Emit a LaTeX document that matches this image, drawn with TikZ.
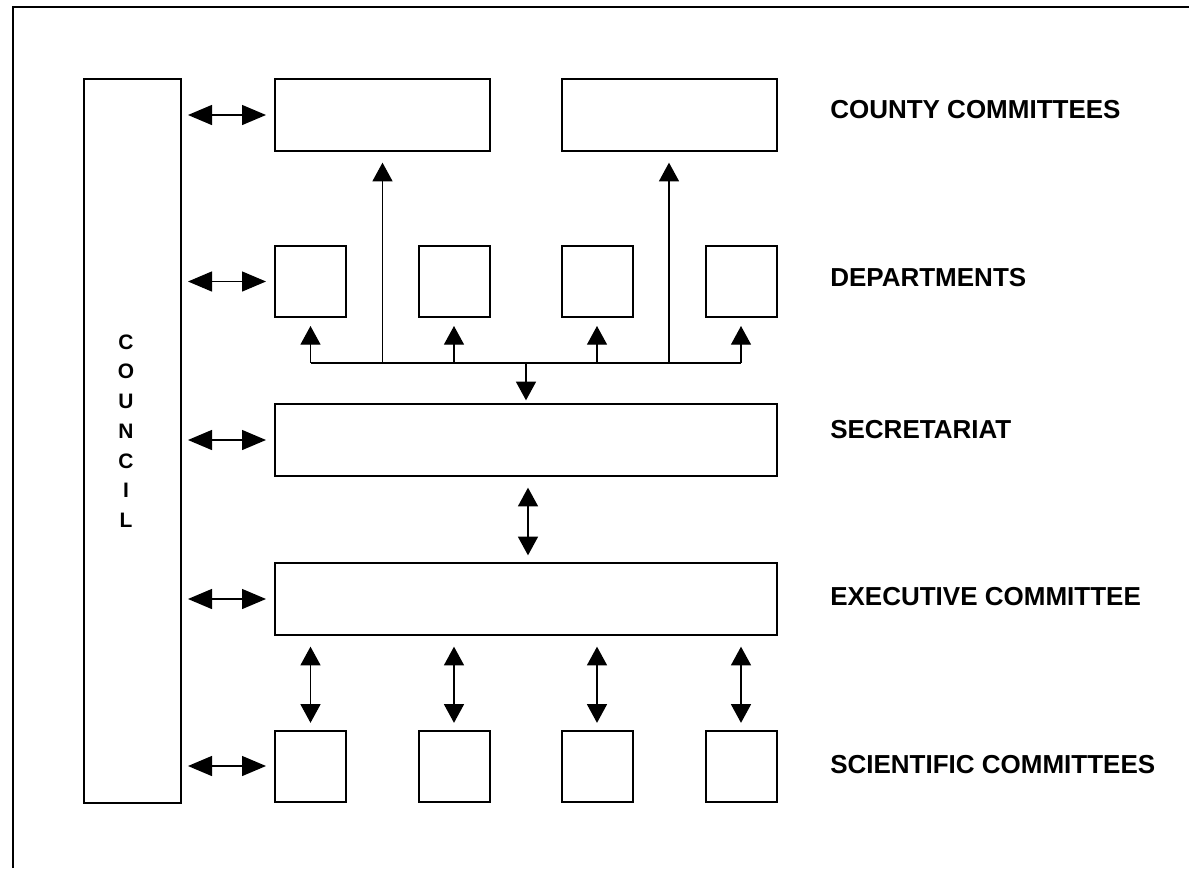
\documentclass[tikz,border=0pt]{standalone}
\usepackage{fontspec}
\setmainfont{Liberation Sans}
\usetikzlibrary{arrows.meta}

\begin{document}
\begin{tikzpicture}[x=0.75pt,y=-0.75pt,
  box/.style={draw,line width=1.5pt,inner sep=0pt},
  wide box/.style={box,minimum width=161.25pt,minimum height=54pt},
  small box/.style={box,minimum width=53.25pt,minimum height=53.25pt},
  long box/.style={box,minimum width=376.5pt,minimum height=54pt},
  link/.style={-{Triangle[length=14pt,width=15pt]},line width=1pt},
  both link/.style={{Triangle[length=14pt,width=15pt]}-{Triangle[length=14pt,width=15pt]},line width=1pt},
  side link/.style={{Triangle[length=18pt,width=15pt]}-{Triangle[length=18pt,width=15pt]},line width=1pt,
    shorten <=4.5pt,shorten >=6pt},
  level/.style={anchor=west,inner sep=0pt,font=\bfseries\fontsize{19.5}{24}\selectfont}]
\useasboundingbox (0,0) rectangle (1189,868);
% The frame
\draw[line width=1.5pt] (13,868) |- (1189,7);
% The council
\node[box,minimum width=72.75pt,minimum height=543pt] (council) at (132.5,441) {};
\foreach \ch [count=\i from 0] in {C,O,U,N,C,I,L}
  \node[inner sep=0pt,font=\bfseries\fontsize{15.7}{18}\selectfont] (letter\i) at (126,342+29.7*\i) {\ch};
% The boxes
\node[wide box] (county1) at (382.5,115) {};
\node[wide box] (county2) at (669,115) {};
\foreach \x [count=\i] in {310.5,454,597,741}
{
  \node[small box] (dept\i) at (\x,281.5) {};
  \node[small box] (sci\i) at (\x,766) {};
}
\node[long box] (secr) at (526,440) {};
\node[long box] (exec) at (526,599) {};
% The labels
\node[level] (lcounty) at (830,110) {COUNTY COMMITTEES};
\node[level] (ldept) at (830,278) {DEPARTMENTS};
\node[level] (lsecr) at (830,430) {SECRETARIAT};
\node[level] (lexec) at (830,597) {EXECUTIVE COMMITTEE};
\node[level] (lsci) at (830,765) {SCIENTIFIC COMMITTEES};
% Links to the council
\foreach \n in {county1,dept1,secr,exec,sci1}
  \draw[side link] (council.east |- \n.west) -- (\n.west);
% The bus under the departments
\coordinate (bus) at (0,363);
\draw[line width=1pt] (dept1 |- bus) -- (dept4 |- bus);
\foreach \i in {1,...,4}
  \draw[link,shorten >=6pt] (dept\i |- bus) -- (dept\i.south);
\draw[link,shorten >=8pt] (county1 |- bus) -- (county1.south);
\draw[link,shorten >=8pt] (county2 |- bus) -- (county2.south);
\draw[link,shorten >=2pt] (secr.north |- bus) -- (secr.north);
% Secretariat and executive
\draw[both link,shorten <=8pt,shorten >=5pt] ([xshift=1.5pt]secr.south) -- ([xshift=1.5pt]exec.north);
% Executive and scientific committees
\foreach \i in {1,...,4}
  \draw[both link,shorten <=8pt,shorten >=5pt] (exec.south -| sci\i) -- (sci\i.north);
\end{tikzpicture}
\end{document}
